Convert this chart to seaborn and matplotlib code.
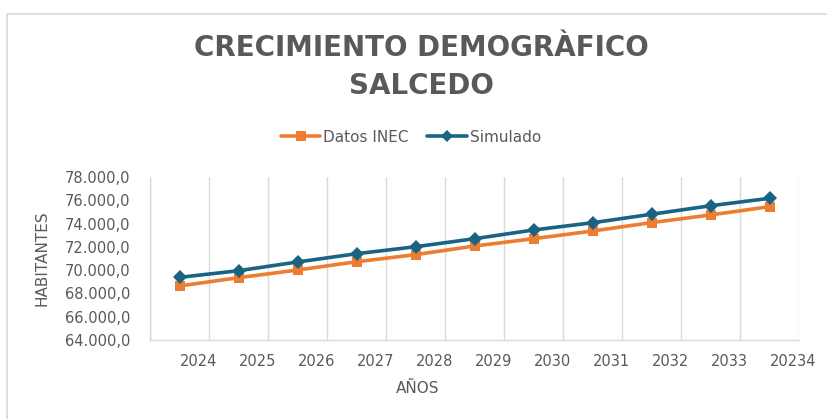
import seaborn as sns
import matplotlib.pyplot as plt
import pandas as pd
from matplotlib.lines import Line2D
from matplotlib.ticker import FuncFormatter, FixedLocator

# data
years = ["2024", "2025", "2026", "2027", "2028", "2029", "2030", "2031", "2032", "2033", "20234"]
datos_inec = [68640, 69350, 70010, 70720, 71330, 72070, 72700, 73360, 74080, 74740, 75450]
simulado = [69380, 69950, 70700, 71410, 72010, 72700, 73450, 74070, 74800, 75530, 76170]

db = pd.DataFrame({
    'pos': list(range(len(years))) * 2,
    'valor': datos_inec + simulado,
    'serie': ['Datos INEC'] * len(years) + ['Simulado'] * len(years),
})

gray = '#595959'
sns.set_style('white')
plt.rcParams['font.family'] = ['DejaVu Sans']

fig = plt.figure(figsize=(8.27, 4.19), dpi=100)
ax = fig.add_axes([150 / 827, 79 / 419, 649 / 827, 163 / 419])

sns.lineplot(data=db, x='pos', y='valor', hue='serie', style='serie',
             markers={'Datos INEC': 's', 'Simulado': 'D'}, dashes=False,
             palette={'Datos INEC': '#ED7D31', 'Simulado': '#1B6382'},
             linewidth=2.6, markersize=7, markeredgewidth=0, ax=ax, legend=False)

ax.set_xlim(-0.5, len(years) - 0.5)
ax.set_ylim(64000, 78000)
ax.set_yticks(range(64000, 78001, 2000))
ax.yaxis.set_major_formatter(FuncFormatter(lambda v, p: f"{v:,.1f}".replace(',', 'X').replace('.', ',').replace('X', '.')))
ax.set_xticks(range(len(years)))
ax.set_xticklabels(years, ha='left')
ax.xaxis.set_minor_locator(FixedLocator([i - 0.5 for i in range(len(years) + 1)]))
ax.grid(False)
ax.grid(True, which='minor', axis='x', color='#d9d9d9', linewidth=1)
ax.tick_params(axis='both', which='both', length=0)
ax.tick_params(axis='x', pad=10, labelsize=10.5, labelcolor=gray)
ax.tick_params(axis='y', pad=14, labelsize=10.5, labelcolor=gray)

for s in ['top', 'right']:
    ax.spines[s].set_visible(False)
for s in ['left', 'bottom']:
    ax.spines[s].set_color('#d9d9d9')
    ax.spines[s].set_linewidth(1)

ax.set_xlabel('AÑOS', fontsize=11, color=gray)
ax.set_ylabel('HABITANTES', fontsize=11, color=gray)
ax.xaxis.set_label_coords(0.413, -0.25)
ax.yaxis.set_label_coords(-0.155, 0.5)

fig.text(421 / 827, 1 - 67 / 419, 'CRECIMIENTO DEMOGRÀFICO\nSALCEDO', ha='center', va='center',
         fontsize=20, fontweight='bold', color=gray, linespacing=1.45)

handles = [
    Line2D([], [], color='#ED7D31', marker='s', linewidth=2.6, markersize=7, markeredgewidth=0),
    Line2D([], [], color='#1B6382', marker='D', linewidth=2.6, markersize=6, markeredgewidth=0),
]
leg = fig.legend(handles, ['Datos INEC', 'Simulado'], loc='center', bbox_to_anchor=(411 / 827, 1 - 137 / 419),
                 ncol=2, frameon=False, fontsize=11, handlelength=2.6, handletextpad=0.2, columnspacing=1.2)
for t in leg.get_texts():
    t.set_color(gray)

# chart area border (top and left edges visible in the reference)
fig.add_artist(Line2D([6.5 / 827, 6.5 / 827, 1], [0, 1 - 14.5 / 419, 1 - 14.5 / 419],
                      transform=fig.transFigure, color='#d9d9d9', linewidth=1.2))

fig.savefig('out.png', dpi=100)
